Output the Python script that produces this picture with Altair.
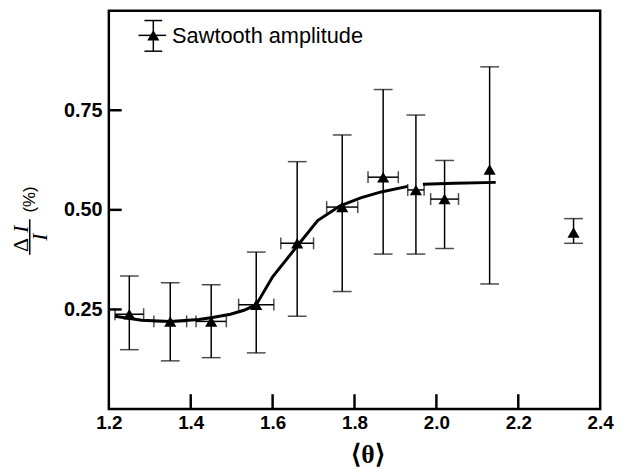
import altair as alt
import pandas as pd

# ---- data ----
theta = [1.25, 1.35, 1.45, 1.56, 1.66, 1.77, 1.87, 1.95, 2.02, 2.13, 2.335]
amp = [0.238, 0.220, 0.220, 0.262, 0.416, 0.507, 0.582, 0.550, 0.527, 0.601, 0.443]
amp_lo = [0.149, 0.121, 0.129, 0.141, 0.233, 0.295, 0.389, 0.389, 0.403, 0.314, 0.416]
amp_hi = [0.334, 0.317, 0.312, 0.394, 0.621, 0.688, 0.802, 0.738, 0.624, 0.859, 0.478]
theta_err = [0.035, 0.040, 0.037, 0.043, 0.040, 0.038, 0.037, 0.020, 0.034, 0.0, 0.0]

fit_theta = [1.215, 1.28, 1.35, 1.42, 1.453, 1.497, 1.53, 1.56, 1.60, 1.663, 1.71,
             1.765, 1.815, 1.865, 1.93, 1.967, 2.045, 2.145]
fit_amp = [0.233, 0.223, 0.220, 0.225, 0.230, 0.238, 0.248, 0.262, 0.332, 0.413, 0.473,
           0.510, 0.530, 0.545, 0.559, 0.564, 0.567, 0.569]
fit_seg = [0] * 15 + [1] * 3

x_ticks = [1.2, 1.4, 1.6, 1.8, 2.0, 2.2, 2.4]
x_inner_ticks = [1.4, 1.6, 1.8, 2.0, 2.2]
y_ticks = [0.25, 0.50, 0.75]
legend_label = "Sawtooth amplitude"
x_title = "⟨θ⟩"

W, H = 497, 403

pts = pd.DataFrame({"theta": theta, "amp": amp, "lo": amp_lo, "hi": amp_hi, "xe": theta_err})
pts["xlo"] = pts["theta"] - pts["xe"]
pts["xhi"] = pts["theta"] + pts["xe"]
herr = pts[pts["xe"] > 0]
fit = pd.DataFrame({"theta": fit_theta, "amp": fit_amp, "seg": fit_seg})
one = pd.DataFrame({"k": [0]})
xtick_df = pd.DataFrame({"tx": x_inner_ticks})
xtick_df["y0"] = 0.0
xtick_df["y1"] = 15 / H
ytick_df = pd.DataFrame({"ty": y_ticks})
ytick_df["x0"] = 1.2
ytick_df["x1"] = 1.2 + 13 / W * 1.2

xs = alt.Scale(domain=[1.2, 2.4], nice=False, zero=False)
ys = alt.Scale(domain=[0, 1.0], nice=False, zero=False)

xaxis = alt.Axis(values=x_ticks, format=".1f", labelFont="Liberation Sans", labelFontWeight="bold",
                 labelFontSize=19, labelColor="black", ticks=False, domain=False, grid=False,
                 labelPadding=5, labelFlush=False, title=None)
yaxis = alt.Axis(values=y_ticks, format=".2f", labelFont="Liberation Sans", labelFontWeight="bold",
                 labelFontSize=20, labelColor="black", ticks=False, domain=False, grid=False,
                 labelPadding=7, title=None)

X = alt.X("theta:Q", scale=xs, axis=xaxis)
Y = alt.Y("amp:Q", scale=ys, axis=yaxis)

black = "#000000"

frame = alt.Chart(one).mark_rect(fill="white", fillOpacity=0, stroke=black, strokeWidth=2.5).encode(
    x=alt.value(0), x2=alt.value(W), y=alt.value(0), y2=alt.value(H))

curve = alt.Chart(fit).mark_line(color=black, strokeWidth=3).encode(
    x=X, y=Y, detail="seg:N")

vbar = alt.Chart(pts).mark_rule(color=black, strokeWidth=1.5).encode(
    x=alt.X("theta:Q", scale=xs), y=alt.Y("lo:Q", scale=ys), y2="hi:Q")
vcap_lo = alt.Chart(pts).mark_tick(color=black, orient="horizontal", size=19, thickness=1.5).encode(
    x=alt.X("theta:Q", scale=xs), y=alt.Y("lo:Q", scale=ys))
vcap_hi = alt.Chart(pts).mark_tick(color=black, orient="horizontal", size=19, thickness=1.5).encode(
    x=alt.X("theta:Q", scale=xs), y=alt.Y("hi:Q", scale=ys))

hbar = alt.Chart(herr).mark_rule(color=black, strokeWidth=1.5).encode(
    x=alt.X("xlo:Q", scale=xs), x2="xhi:Q", y=alt.Y("amp:Q", scale=ys))
hcap_lo = alt.Chart(herr).mark_tick(color=black, orient="vertical", size=12, thickness=1.5).encode(
    x=alt.X("xlo:Q", scale=xs), y=alt.Y("amp:Q", scale=ys))
hcap_hi = alt.Chart(herr).mark_tick(color=black, orient="vertical", size=12, thickness=1.5).encode(
    x=alt.X("xhi:Q", scale=xs), y=alt.Y("amp:Q", scale=ys))

tri = alt.Chart(pts).mark_point(shape="triangle-up", filled=True, color=black, opacity=1,
                                size=150).encode(x=alt.X("theta:Q", scale=xs), y=alt.Y("amp:Q", scale=ys))

# inward axis ticks
xt = alt.Chart(xtick_df).mark_rule(color=black, strokeWidth=2.5).encode(
    x=alt.X("tx:Q", scale=xs), y=alt.Y("y0:Q", scale=ys), y2="y1:Q")
yt = alt.Chart(ytick_df).mark_rule(color=black, strokeWidth=2.5).encode(
    y=alt.Y("ty:Q", scale=ys), x=alt.X("x0:Q", scale=xs), x2="x1:Q")

# legend
lx, ly = 45, 25
leg = [
    alt.Chart(one).mark_rule(color=black, strokeWidth=1.5).encode(
        x=alt.value(lx), y=alt.value(ly - 15), y2=alt.value(ly + 16)),
    alt.Chart(one).mark_rule(color=black, strokeWidth=1.5).encode(
        x=alt.value(lx - 9), x2=alt.value(lx + 9), y=alt.value(ly - 15)),
    alt.Chart(one).mark_rule(color=black, strokeWidth=1.5).encode(
        x=alt.value(lx - 9), x2=alt.value(lx + 9), y=alt.value(ly + 16)),
    alt.Chart(one).mark_rule(color=black, strokeWidth=1.5).encode(
        x=alt.value(lx - 15), x2=alt.value(lx + 13), y=alt.value(ly)),
    alt.Chart(one).mark_point(shape="triangle-up", filled=True, color=black, opacity=1, size=150).encode(
        x=alt.value(lx), y=alt.value(ly)),
    alt.Chart(one).mark_text(text=legend_label, align="left", baseline="middle", font="Liberation Sans",
                             fontSize=22, color=black).encode(x=alt.value(lx + 19), y=alt.value(ly + 1)),
]

# axis titles
ytitle = [
    alt.Chart(one).mark_text(text="Δ", angle=270, font="Liberation Serif", fontSize=22,
                             color=black, align="center", baseline="middle").encode(
        x=alt.value(-89), y=alt.value(237)),
    alt.Chart(one).mark_text(text="I", angle=270, font="Liberation Serif", fontStyle="italic",
                             fontSize=22, color=black, align="center", baseline="middle").encode(
        x=alt.value(-89), y=alt.value(221)),
    alt.Chart(one).mark_rule(color=black, strokeWidth=1.5).encode(
        x=alt.value(-80), y=alt.value(211), y2=alt.value(247)),
    alt.Chart(one).mark_text(text="I", angle=270, font="Liberation Serif", fontStyle="italic",
                             fontSize=22, color=black, align="center", baseline="middle").encode(
        x=alt.value(-70), y=alt.value(229)),
    alt.Chart(one).mark_text(text="(%)", angle=270, font="Liberation Sans", fontSize=17,
                             color=black, align="center", baseline="middle").encode(
        x=alt.value(-80), y=alt.value(191)),
]
xtitle = alt.Chart(one).mark_text(text=x_title, font="Liberation Serif", fontWeight="bold", fontSize=26,
                                  color=black, align="center", baseline="middle").encode(
    x=alt.value(262), y=alt.value(450))

chart = alt.layer(frame, curve, vbar, vcap_lo, vcap_hi, hbar, hcap_lo, hcap_hi, tri, xt, yt,
                  *leg, *ytitle, xtitle).properties(
    width=W, height=H,
    background="white",
    autosize=alt.AutoSizeParams(type="none"),
    padding={"left": 102, "top": 0, "right": 15, "bottom": 62},
).configure_view(strokeWidth=0)

chart.save("out.html", embed_options={"renderer": "svg", "actions": False})
